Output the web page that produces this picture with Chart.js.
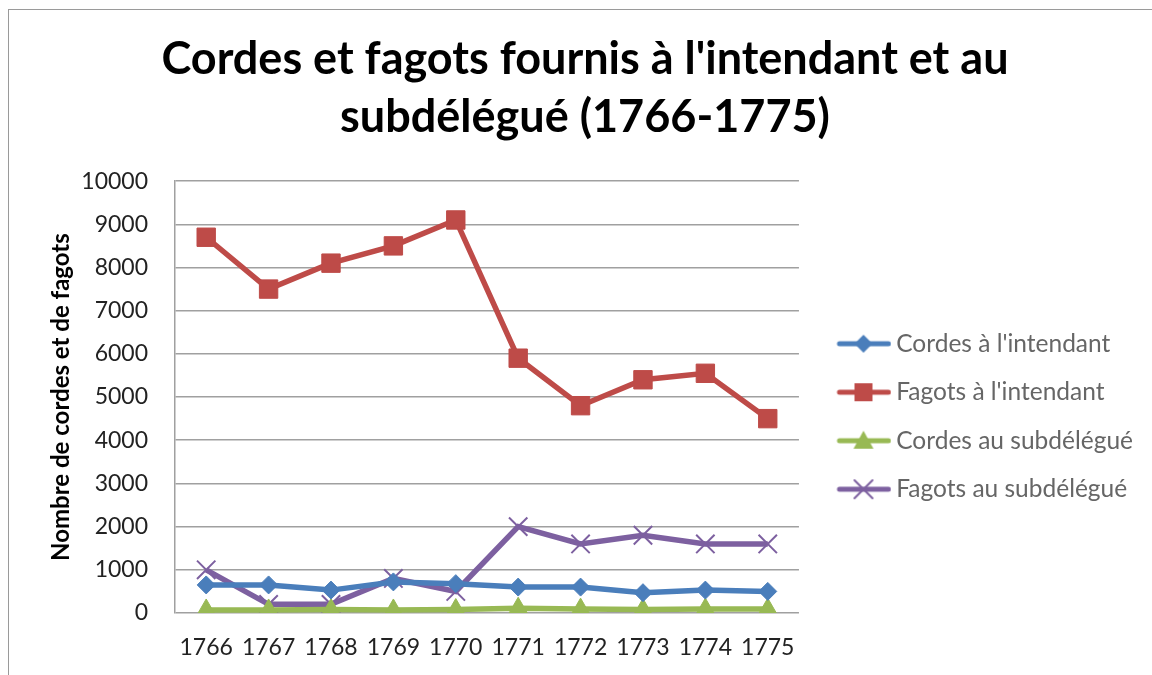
<!DOCTYPE html>
<html>
<head>
<meta charset="utf-8">
<script src="https://cdn.jsdelivr.net/npm/chart.js@4/dist/chart.umd.min.js"></script>
<style>
  html, body { margin: 0; padding: 0; background: #fff; overflow: hidden; }
  #cadre {
    position: absolute; left: 8px; top: 9px; width: 1160px; height: 700px;
    border-left: 1.5px solid #9a9a9a; border-top: 1.5px solid #9a9a9a;
  }
  #boite { position: absolute; left: 0; top: 0; width: 1152px; height: 675px; }
</style>
</head>
<body>
<div id="cadre"></div>
<div id="boite"><canvas id="fagotsChart"></canvas></div>
<script>
const annees = ['1766', '1767', '1768', '1769', '1770', '1771', '1772', '1773', '1774', '1775'];

const cordesIntendant = [650, 650, 530, 720, 680, 600, 600, 470, 530, 500];
const fagotsIntendant = [8700, 7500, 8100, 8500, 9100, 5900, 4800, 5400, 5550, 4500];
const cordesSubdelegue = [70, 70, 80, 70, 80, 110, 90, 80, 90, 90];
const fagotsSubdelegue = [1000, 200, 200, 800, 500, 2000, 1600, 1800, 1600, 1600];

const titre = ["Cordes et fagots fournis à l'intendant et au", 'subdélégué (1766-1775)'];
const titreAxeY = 'Nombre de cordes et de fagots';

const police = 'Lato, "Open Sans", sans-serif';

// petite image "trait + marqueur" pour la légende (le trait est décalé à droite)
function iconeLegende(couleur, forme) {
    const c = document.createElement('canvas');
    c.width = 76; c.height = 28;
    const g = c.getContext('2d');
    g.strokeStyle = couleur; g.fillStyle = couleur;
    g.lineWidth = 5; g.lineCap = 'round';
    g.beginPath(); g.moveTo(24, 14); g.lineTo(73, 14); g.stroke();
    const cx = 48, cy = 14;
    g.beginPath();
    if (forme === 'rectRot') {
        g.moveTo(cx, cy - 9); g.lineTo(cx + 9, cy); g.lineTo(cx, cy + 9); g.lineTo(cx - 9, cy); g.closePath(); g.fill();
    } else if (forme === 'rect') {
        g.fillRect(cx - 9, cy - 9, 18, 18);
    } else if (forme === 'triangle') {
        g.moveTo(cx, cy - 10); g.lineTo(cx + 10, cy + 8); g.lineTo(cx - 10, cy + 8); g.closePath(); g.fill();
    } else {
        g.lineWidth = 2;
        g.moveTo(cx - 9, cy - 9); g.lineTo(cx + 9, cy + 9);
        g.moveTo(cx + 9, cy - 9); g.lineTo(cx - 9, cy + 9); g.stroke();
    }
    return c;
}

function serie(label, data, couleur, forme, taille) {
    return {
        label: label,
        data: data,
        borderColor: couleur,
        backgroundColor: couleur,
        borderWidth: 5.5,
        pointStyle: forme,
        pointRadius: taille,
        pointHoverRadius: taille,
        pointBorderWidth: forme === 'crossRot' ? 2 : 1,
        pointBorderColor: couleur,
        pointBackgroundColor: couleur,
        tension: 0,
        icone: iconeLegende(couleur, forme)
    };
}

const ctx = document.getElementById('fagotsChart').getContext('2d');

new Chart(ctx, {
    type: 'line',
    data: {
        labels: annees,
        datasets: [
            serie("Cordes à l'intendant", cordesIntendant, '#4a7ebb', 'rectRot', 9),
            serie("Fagots à l'intendant", fagotsIntendant, '#be4b48', 'rect', 13),
            serie('Cordes au subdélégué', cordesSubdelegue, '#98b954', 'triangle', 11),
            serie('Fagots au subdélégué', fagotsSubdelegue, '#7d60a0', 'crossRot', 13)
        ]
    },
    options: {
        responsive: true,
        maintainAspectRatio: false,
        animation: false,
        layout: { padding: { top: 30, left: 27, right: 9, bottom: 0 } },
        plugins: {
            title: {
                display: true,
                text: titre,
                color: '#000',
                font: { family: police, size: 45, weight: 'bold', lineHeight: 1.29 },
                padding: { top: 0, bottom: 35 }
            },
            legend: {
                display: true,
                position: 'right',
                maxWidth: 420,
                title: { display: true, text: ' ', font: { size: 10, lineHeight: 1 }, padding: { top: 118, bottom: 0 } },
                labels: {
                    usePointStyle: true,
                    pointStyleWidth: 61,
                    color: '#222',
                    font: { family: police, size: 24.5 },
                    padding: 24,
                    generateLabels: chart => chart.data.datasets.map((ds, i) => ({
                        text: ds.label,
                        pointStyle: ds.icone,
                        fillStyle: ds.borderColor,
                        strokeStyle: ds.borderColor,
                        lineWidth: 0,
                        datasetIndex: i,
                        hidden: false
                    }))
                }
            },
            tooltip: { enabled: false }
        },
        scales: {
            x: {
                grid: { display: false, drawTicks: false },
                border: { display: false },
                offset: true,
                ticks: { color: '#222', font: { family: police, size: 23 }, padding: 21 },
                afterFit: scale => { scale.height = 62; }
            },
            y: {
                min: 0,
                max: 10000,
                grid: { color: '#a0a0a0', lineWidth: 1.5, drawTicks: false },
                border: { display: true, color: '#a0a0a0', width: 1.5 },
                ticks: {
                    stepSize: 1000,
                    color: '#222',
                    font: { family: police, size: 23 },
                    padding: 27,
                    callback: value => String(value)
                },
                title: {
                    display: true,
                    text: titreAxeY,
                    color: '#000',
                    font: { family: police, size: 24, weight: 'bold' },
                    padding: { top: 20, bottom: 0 }
                },
                afterFit: scale => { scale.width = 148; }
            }
        }
    }
});
</script>
</body>
</html>
